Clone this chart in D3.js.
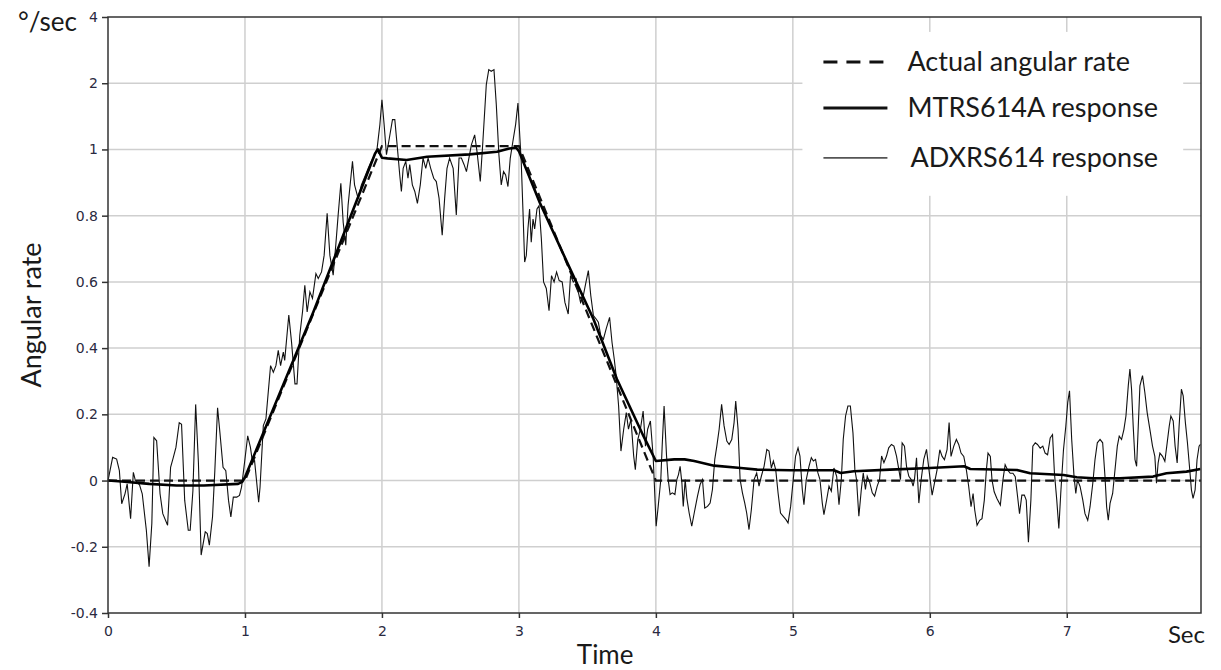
<!DOCTYPE html>
<html>
<head>
<meta charset="utf-8">
<script src="https://cdn.jsdelivr.net/npm/d3@7"></script>
<style>
  body { margin: 0; background: #fff; }
  svg { display: block; }
</style>
</head>
<body>
<svg id="chart" width="1221" height="670"></svg>
<script>
// y ticks: positions are evenly spaced, labels as printed on the original
const yTickValues = [-0.4, -0.2, 0, 0.2, 0.4, 0.6, 0.8, 1.0, 1.2, 1.4]
const yTickLabels = ['-0.4', '-0.2', '0', '0.2', '0.4', '0.6', '0.8', '1', '2', '4']
const xTickValues = [0, 1, 2, 3, 4, 5, 6, 7]

// Actual angular rate [time, rate]
const actualRate = [[0, 0], [1, 0], [2, 1.01], [3, 1.01], [4, 0], [7.98, 0]]

// MTRS614A response [time, rate]
const mtrsResponse = [
  [0, 0], [0.1, -0.003], [0.3, -0.01], [0.5, -0.015], [0.7, -0.015], [0.95, -0.01], [0.98, -0.004],
  [1.0, 0.01], [1.5, 0.51], [1.95, 0.988], [1.97, 1.0], [2.0, 0.975], [2.04, 0.973], [2.18, 0.968],
  [2.33, 0.978], [2.64, 0.985], [2.84, 0.993], [2.93, 1.003], [2.98, 1.005], [3.0, 0.995],
  [3.152, 0.84], [3.373, 0.64], [3.544, 0.488], [3.716, 0.306], [3.91, 0.134], [4.0, 0.059],
  [4.134, 0.064], [4.21, 0.064], [4.28, 0.059], [4.425, 0.045], [4.62, 0.038], [4.74, 0.033],
  [4.98, 0.031], [5.3, 0.031], [5.35, 0.023], [5.446, 0.028], [5.71, 0.033], [6.0, 0.038],
  [6.25, 0.043], [6.296, 0.035], [6.636, 0.032], [6.733, 0.022], [6.976, 0.017], [7.073, 0.01],
  [7.194, 0.007], [7.388, 0.007], [7.63, 0.012], [7.728, 0.022], [7.874, 0.027], [7.976, 0.035]
]

// ADXRS614 response [time, rate]
const adxrsResponse = [
  [0, 0], [0.034, 0.07], [0.063, 0.065], [0.083, 0.03], [0.1, -0.07], [0.124, -0.04], [0.14, -0.01],
  [0.165, -0.115], [0.185, 0.025], [0.2, 0], [0.23, -0.013], [0.25, -0.04], [0.28, -0.15], [0.3, -0.26],
  [0.32, -0.13], [0.335, 0.13], [0.355, 0.12], [0.38, -0.04], [0.4, -0.1], [0.435, -0.135], [0.457, 0.04],
  [0.477, 0.07], [0.496, 0.1], [0.52, 0.175], [0.537, 0.17], [0.56, -0.06], [0.586, -0.15], [0.6, -0.15],
  [0.62, -0.03], [0.64, 0.23], [0.66, 0.055], [0.68, -0.225], [0.71, -0.155], [0.725, -0.16],
  [0.74, -0.195], [0.763, -0.11], [0.78, 0.03], [0.8, 0.22], [0.817, 0.145], [0.84, 0.04], [0.86, 0.03],
  [0.88, -0.06], [0.897, -0.11], [0.915, -0.05], [0.94, -0.05], [0.96, -0.045], [0.975, -0.02],
  [1.0, 0.065], [1.02, 0.135], [1.04, 0.1], [1.055, 0.055], [1.07, 0.06], [1.1, -0.065], [1.11, -0.02],
  [1.134, 0.166], [1.153, 0.186], [1.17, 0.267], [1.187, 0.347], [1.207, 0.327], [1.226, 0.347],
  [1.243, 0.393], [1.26, 0.347], [1.28, 0.388], [1.29, 0.363], [1.32, 0.5], [1.34, 0.418], [1.365, 0.292],
  [1.38, 0.292], [1.4, 0.438], [1.42, 0.509], [1.437, 0.59], [1.454, 0.509], [1.474, 0.57], [1.493, 0.55],
  [1.518, 0.625], [1.535, 0.61], [1.559, 0.63], [1.578, 0.68], [1.6, 0.807], [1.62, 0.68], [1.644, 0.62],
  [1.663, 0.711], [1.68, 0.8], [1.7, 0.898], [1.717, 0.78], [1.736, 0.711], [1.753, 0.832], [1.785, 0.964],
  [1.8, 0.893], [1.826, 0.852], [1.85, 0.893], [1.875, 0.918], [1.9, 0.943], [1.923, 0.964], [1.948, 0.984],
  [1.965, 1.004], [1.985, 1.075], [2.0, 1.15], [2.016, 1.075], [2.033, 0.984], [2.05, 1.024], [2.077, 1.09],
  [2.094, 1.09], [2.113, 1.004], [2.13, 0.923], [2.142, 0.873], [2.155, 0.943], [2.174, 0.964],
  [2.19, 0.913], [2.203, 0.954], [2.222, 0.893], [2.24, 0.873], [2.259, 0.837], [2.28, 0.893], [2.3, 0.974],
  [2.32, 0.943], [2.337, 0.974], [2.356, 0.943], [2.378, 0.913], [2.397, 0.903], [2.417, 0.853],
  [2.44, 0.741], [2.458, 0.853], [2.475, 0.943], [2.494, 0.974], [2.52, 0.943], [2.543, 0.802],
  [2.563, 0.974], [2.58, 0.974], [2.6, 0.954], [2.617, 0.933], [2.635, 0.974], [2.653, 1.014],
  [2.677, 1.044], [2.694, 0.994], [2.718, 0.903], [2.737, 1.024], [2.762, 1.196], [2.78, 1.241],
  [2.798, 1.236], [2.818, 1.241], [2.835, 1.135], [2.854, 0.984], [2.871, 0.893], [2.888, 0.933],
  [2.903, 0.923], [2.92, 0.888], [2.937, 0.974], [2.956, 1.024], [2.976, 1.075], [2.993, 1.14],
  [3.017, 0.963], [3.03, 0.81], [3.042, 0.66], [3.054, 0.68], [3.066, 0.76], [3.078, 0.82], [3.09, 0.72],
  [3.103, 0.79], [3.115, 0.76], [3.132, 0.82], [3.147, 0.83], [3.164, 0.73], [3.18, 0.6], [3.2, 0.58],
  [3.22, 0.513], [3.238, 0.619], [3.257, 0.6], [3.275, 0.63], [3.294, 0.604], [3.316, 0.6], [3.336, 0.538],
  [3.36, 0.503], [3.377, 0.619], [3.397, 0.6], [3.417, 0.609], [3.434, 0.569], [3.45, 0.538], [3.47, 0.558],
  [3.49, 0.6], [3.507, 0.634], [3.525, 0.558], [3.544, 0.498], [3.564, 0.488], [3.58, 0.478], [3.598, 0.437],
  [3.617, 0.427], [3.637, 0.458], [3.662, 0.493], [3.68, 0.417], [3.696, 0.367], [3.71, 0.316],
  [3.728, 0.225], [3.745, 0.089], [3.765, 0.155], [3.784, 0.205], [3.8, 0.155], [3.818, 0.185],
  [3.838, 0.074], [3.85, 0.033], [3.868, 0.124], [3.887, 0.155], [3.907, 0.21], [3.924, 0.104],
  [3.94, 0.155], [3.96, 0.18], [3.98, 0.074], [4.002, -0.138], [4.017, -0.078], [4.036, 0.003],
  [4.046, 0.104], [4.06, 0.225], [4.078, 0.074], [4.09, 0.003], [4.104, -0.042], [4.12, -0.037],
  [4.139, -0.042], [4.153, 0.003], [4.165, 0.018], [4.177, 0.043], [4.19, -0.007], [4.2, -0.078],
  [4.214, 0.003], [4.226, -0.053], [4.243, -0.098], [4.262, -0.138], [4.28, -0.098], [4.304, -0.047],
  [4.323, -0.012], [4.34, 0.003], [4.357, -0.083], [4.377, -0.078], [4.396, -0.068], [4.413, -0.027],
  [4.43, 0.064], [4.445, 0.104], [4.462, 0.155], [4.48, 0.23], [4.498, 0.165], [4.518, 0.119],
  [4.535, 0.109], [4.554, 0.124], [4.571, 0.175], [4.583, 0.24], [4.6, 0.155], [4.615, 0.003],
  [4.632, -0.037], [4.649, -0.068], [4.663, -0.098], [4.68, -0.148], [4.697, -0.088], [4.717, 0.003],
  [4.736, 0.023], [4.753, -0.017], [4.77, 0.013], [4.79, 0.043], [4.81, 0.094], [4.826, 0.089],
  [4.843, 0.038], [4.858, 0.059], [4.875, 0.033], [4.892, -0.037], [4.91, -0.098], [4.93, -0.108],
  [4.95, -0.118], [4.965, -0.128], [4.984, -0.078], [5.003, 0.003], [5.02, 0.074], [5.038, 0.099],
  [5.052, 0.074], [5.069, -0.027], [5.081, -0.073], [5.098, 0.003], [5.118, 0.043], [5.135, 0.069],
  [5.15, 0.059], [5.166, 0.064], [5.183, 0.023], [5.198, 0.003], [5.215, -0.068], [5.227, -0.103],
  [5.247, -0.058], [5.264, -0.017], [5.281, -0.032], [5.3, 0.038], [5.32, 0.013], [5.337, -0.073],
  [5.354, 0.003], [5.368, 0.124], [5.385, 0.195], [5.402, 0.225], [5.42, 0.225], [5.439, 0.144],
  [5.453, 0.033], [5.465, 0.003], [5.482, -0.108], [5.5, -0.027], [5.514, 0.023], [5.53, -0.027],
  [5.543, 0.013], [5.562, -0.007], [5.58, -0.037], [5.597, -0.047], [5.616, -0.017], [5.633, 0.003],
  [5.648, 0.074], [5.665, 0.054], [5.684, 0.074], [5.7, 0.099], [5.72, 0.109], [5.738, 0.104],
  [5.757, 0.074], [5.774, 0.033], [5.786, 0.003], [5.798, 0.114], [5.815, 0.104], [5.83, 0.043],
  [5.847, 0.013], [5.864, 0.003], [5.878, -0.017], [5.888, 0.003], [5.903, 0.069], [5.92, -0.068],
  [5.937, 0.003], [5.956, 0.064], [5.976, 0.094], [6.0, 0.012], [6.017, -0.044], [6.034, -0.008],
  [6.053, 0.032], [6.073, 0.093], [6.09, 0.073], [6.107, 0.063], [6.126, 0.093], [6.141, 0.175],
  [6.155, 0.073], [6.175, 0.104], [6.194, 0.124], [6.211, 0.109], [6.228, 0.083], [6.248, 0.073],
  [6.267, 0.032], [6.284, -0.018], [6.301, -0.079], [6.316, -0.039], [6.328, -0.089], [6.345, -0.135],
  [6.364, -0.12], [6.381, -0.115], [6.398, -0.059], [6.413, 0.032], [6.425, 0.083], [6.442, 0.073],
  [6.454, 0.002], [6.47, -0.034], [6.49, -0.054], [6.515, -0.074], [6.534, 0.002], [6.55, 0.048],
  [6.568, 0.032], [6.587, 0.022], [6.607, 0.022], [6.624, 0.012], [6.641, -0.049], [6.655, -0.1],
  [6.672, -0.044], [6.69, -0.044], [6.704, -0.059], [6.72, -0.186], [6.738, -0.059], [6.752, 0.104],
  [6.77, 0.114], [6.786, 0.109], [6.806, 0.098], [6.825, 0.104], [6.842, 0.083], [6.86, 0.078],
  [6.879, 0.129], [6.896, 0.139], [6.91, 0.022], [6.927, -0.059], [6.942, -0.145], [6.956, -0.039],
  [6.976, 0.093], [6.993, 0.164], [7.007, 0.236], [7.02, 0.271], [7.036, 0.124], [7.053, 0.012],
  [7.066, -0.039], [7.078, 0.002], [7.097, -0.018], [7.117, -0.059], [7.133, -0.1], [7.153, -0.12],
  [7.17, -0.079], [7.19, -0.008], [7.206, 0.063], [7.223, 0.114], [7.243, 0.124], [7.262, 0.114],
  [7.279, 0.012], [7.291, -0.079], [7.303, -0.12], [7.316, -0.069], [7.335, -0.039], [7.352, 0.032],
  [7.369, 0.104], [7.383, 0.134], [7.4, 0.124], [7.417, 0.154], [7.432, 0.195], [7.449, 0.286],
  [7.461, 0.337], [7.473, 0.276], [7.485, 0.164], [7.498, 0.063], [7.51, 0.043], [7.522, 0.164],
  [7.534, 0.286], [7.553, 0.317], [7.57, 0.266], [7.587, 0.205], [7.607, 0.154], [7.626, 0.104],
  [7.643, 0.073], [7.655, -0.008], [7.667, 0.053], [7.68, 0.083], [7.699, 0.073], [7.716, 0.058],
  [7.733, 0.114], [7.748, 0.164], [7.76, 0.195], [7.777, 0.18], [7.791, 0.104], [7.806, 0.053],
  [7.82, 0.164], [7.837, 0.276], [7.85, 0.256], [7.866, 0.175], [7.881, 0.114], [7.898, 0.032],
  [7.91, -0.028], [7.922, -0.054], [7.937, -0.028], [7.951, 0.063], [7.966, 0.104], [7.976, 0.109]
]

const legendItems = [
  { label: 'Actual angular rate', dash: '14,9', width: 3, color: '#111' },
  { label: 'MTRS614A response', dash: null, width: 3, color: '#111' },
  { label: 'ADXRS614 response', dash: null, width: 1.6, color: '#555' }
]

const svg = d3.select('#chart')
const margin = { top: 17, right: 20, bottom: 57, left: 108 }
const width = 1221 - margin.left - margin.right
const height = 670 - margin.top - margin.bottom
const g = svg.append('g').attr('transform', `translate(${margin.left},${margin.top})`)

const x = d3.scaleLinear().domain([0, 7.98]).range([0, width])
const y = d3.scaleLinear().domain([-0.4, 1.4]).range([height, 0])

// grid
g.append('g')
  .selectAll('line')
  .data(xTickValues.slice(1))
  .enter()
  .append('line')
  .attr('x1', d => x(d)).attr('x2', d => x(d))
  .attr('y1', 0).attr('y2', height)
  .attr('stroke', '#cfcfcf')
  .attr('stroke-width', 1.5)
g.append('g')
  .selectAll('line')
  .data(yTickValues.slice(1, -1))
  .enter()
  .append('line')
  .attr('x1', 0).attr('x2', width)
  .attr('y1', d => y(d)).attr('y2', d => y(d))
  .attr('stroke', '#cfcfcf')
  .attr('stroke-width', 1.5)

// legend background hides grid
const legend = g.append('g').attr('transform', `translate(${x(5.07)},${y(1.355)})`)
legend.append('rect')
  .attr('width', x(7.85) - x(5.07))
  .attr('height', y(0.86) - y(1.355))
  .attr('fill', '#fff')

// axes
const yAxis = d3.axisLeft(y)
  .tickValues(yTickValues)
  .tickFormat((d, i) => yTickLabels[i])
  .tickSize(6)
  .tickPadding(4)
const xAxis = d3.axisBottom(x)
  .tickValues(xTickValues)
  .tickFormat(d3.format('d'))
  .tickSize(5)
  .tickPadding(8)

g.append('g').call(yAxis)
  .call(a => a.select('.domain').remove())
  .call(a => a.selectAll('line').attr('stroke', '#333').attr('stroke-width', 1.5))
  .call(a => a.selectAll('text').attr('font-family', 'DejaVu Sans').attr('font-size', 14).attr('fill', '#2a2a40'))
g.append('g').attr('transform', `translate(0,${height})`).call(xAxis)
  .call(a => a.select('.domain').remove())
  .call(a => a.selectAll('line').attr('stroke', '#333').attr('stroke-width', 1.5))
  .call(a => a.selectAll('text').attr('font-family', 'DejaVu Sans').attr('font-size', 14).attr('fill', '#2a2a40'))

// lines
const line = d3.line().x(d => x(d[0])).y(d => y(d[1]))
g.append('path').datum(adxrsResponse)
  .attr('d', line).attr('fill', 'none')
  .attr('stroke', '#111').attr('stroke-width', 1.1).attr('stroke-linejoin', 'miter')
g.append('path').datum(actualRate)
  .attr('d', line).attr('fill', 'none')
  .attr('stroke', '#111').attr('stroke-width', 2.2).attr('stroke-dasharray', '9,5')
g.append('path').datum(mtrsResponse)
  .attr('d', line).attr('fill', 'none')
  .attr('stroke', '#000').attr('stroke-width', 2.6).attr('stroke-linejoin', 'round')

// frame
g.append('rect')
  .attr('width', width).attr('height', height)
  .attr('fill', 'none').attr('stroke', '#333').attr('stroke-width', 1.5)

// legend entries
const rows = legend.selectAll('g.item')
  .data(legendItems)
  .enter()
  .append('g')
  .attr('class', 'item')
  .attr('transform', (d, i) => `translate(0,${[30, 76, 126][i]})`)
rows.append('line')
  .attr('x1', 21).attr('x2', 85)
  .attr('stroke', d => d.color)
  .attr('stroke-width', d => d.width)
  .attr('stroke-dasharray', d => d.dash)
rows.append('text')
  .attr('x', (d, i) => i === 2 ? 108 : 105)
  .attr('dy', '0.35em')
  .attr('font-family', 'Lato')
  .attr('font-size', 27)
  .attr('fill', '#1a1a1a')
  .text(d => d.label)

// axis titles
svg.append('text')
  .attr('x', 18).attr('y', 31)
  .attr('font-family', 'Lato').attr('font-size', 26).attr('fill', '#1a1a1a')
  .text('°/sec')
svg.append('text')
  .attr('transform', `translate(41,${margin.top + y(0.5)}) rotate(-90)`)
  .attr('text-anchor', 'middle')
  .attr('font-family', 'Lato').attr('font-size', 27).attr('fill', '#1a1a1a')
  .text('Angular rate')
svg.append('text')
  .attr('x', margin.left + x(3.63)).attr('y', 664)
  .attr('text-anchor', 'middle')
  .attr('font-family', 'Lato').attr('font-size', 26).attr('fill', '#1a1a1a')
  .text('Time')
svg.append('text')
  .attr('x', 1205).attr('y', 643)
  .attr('text-anchor', 'end')
  .attr('font-family', 'Lato').attr('font-size', 24).attr('fill', '#1a1a1a')
  .text('Sec')
</script>
</body>
</html>
